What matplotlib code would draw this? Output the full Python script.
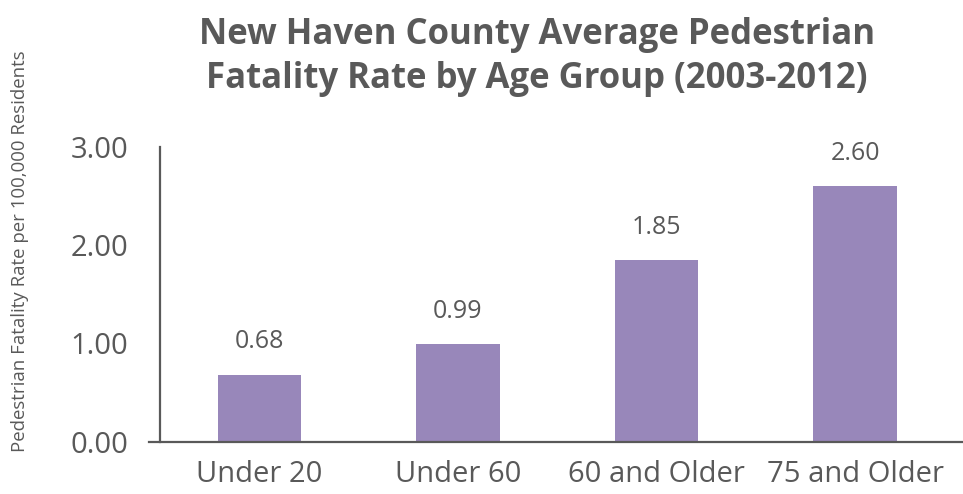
import numpy as np
import matplotlib.pyplot as plt

# data
groups = ["Under 20", "Under 60", "60 and Older", "75 and Older"]
rates = [0.68, 0.99, 1.85, 2.60]
yticks = [0.0, 1.0, 2.0, 3.0]

grey = "#595959"
purple = "#9887ba"

plt.rcParams['font.family'] = ['Open Sans', 'DejaVu Sans']

fig = plt.figure(figsize=(9.63, 4.94), dpi=100)
ax = fig.add_axes([149/963, 52.5/494, 814/963, 294.5/494])

# spine first, moving it resets the tick labels
for s in ["top", "right"]:
    ax.spines[s].set_visible(False)
ax.spines["left"].set_position(("axes", 11/814))
ax.spines["left"].set_color(grey)
ax.spines["bottom"].set_color(grey)
ax.spines["left"].set_linewidth(1.6)
ax.spines["bottom"].set_linewidth(1.6)

x = np.arange(len(groups))
bars = ax.bar(x, rates, width=0.42, color=purple, zorder=2)

for xi, r in zip(x, rates):
    ax.annotate("{0:.2f}".format(r), (xi, r), xytext=(0, 19), textcoords="offset points",
                ha="center", va="baseline", fontsize=18, color=grey)

ax.set_xlim(-0.557, 3.544)
ax.set_ylim(0, 3.0)
ax.set_xticks(x)
ax.set_xticklabels(groups, fontsize=21, color=grey)
ax.set_yticks(yticks)
ax.set_yticklabels(["{0:.2f}".format(t) for t in yticks], fontsize=21, color=grey)
ax.tick_params(axis="both", length=0)
ax.tick_params(axis="y", pad=23)
ax.tick_params(axis="x", pad=13)

fig.text(537/963, 1 - 57/494, "New Haven County Average Pedestrian\nFatality Rate by Age Group (2003-2012)",
         ha="center", va="center", fontsize=25, fontweight="bold", color=grey, linespacing=1.3)
fig.text(20/963, 1 - 251/494, "Pedestrian Fatality Rate per 100,000 Residents", rotation=90,
         ha="center", va="center", fontsize=13.4, color=grey)

fig.savefig("out.png", dpi=100)
